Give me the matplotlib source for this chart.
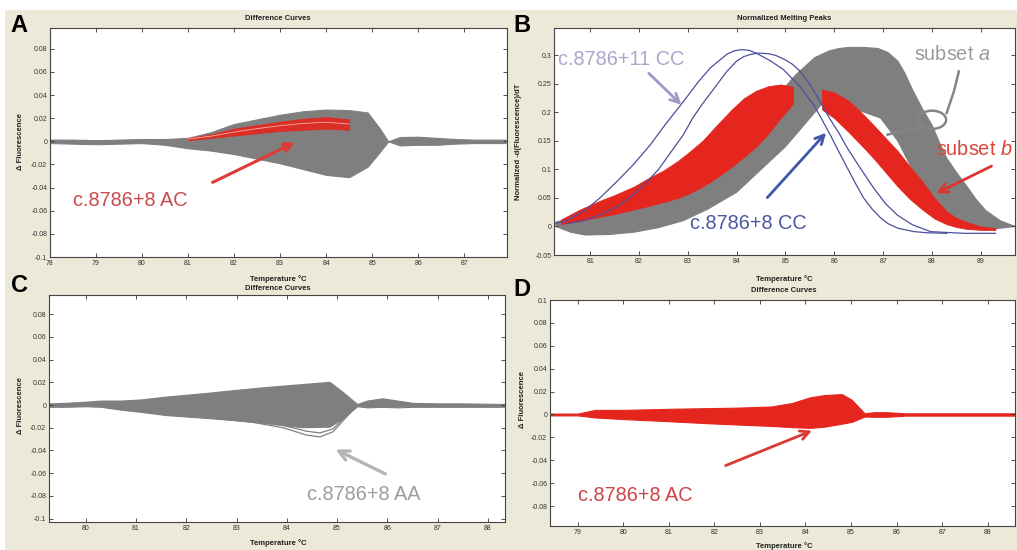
import matplotlib.pyplot as plt
from matplotlib.patches import Rectangle, Ellipse

plt.rcParams['font.family'] = ['Liberation Sans', 'DejaVu Sans']
plt.rcParams['mathtext.fontset'] = 'custom'
plt.rcParams['mathtext.rm'] = 'Liberation Sans'
plt.rcParams['mathtext.it'] = 'Liberation Sans:italic'

W, H = 1017, 550

# Panel A - difference curves, envelope of the gray bundle
a_temp = [78.0, 78.5, 79.0, 79.5, 80.0, 80.5, 81.0, 81.5, 82.0, 82.5, 83.0, 83.5, 84.0,
          84.5, 84.9, 85.15, 85.35, 85.6, 86.0, 86.4, 86.8, 87.2, 87.9]
a_upper = [0.0015, 0.0015, 0.001, 0.0015, 0.002, 0.002, 0.003, 0.008, 0.015, 0.019, 0.023,
           0.026, 0.0275, 0.027, 0.025, 0.012, 0.0, 0.0037, 0.004, 0.003, 0.002, 0.0015, 0.0015]
a_lower = [-0.0015, -0.002, -0.0025, -0.002, -0.0015, -0.003, -0.006, -0.008, -0.011, -0.015,
           -0.019, -0.024, -0.029, -0.031, -0.022, -0.010, 0.0, -0.0035, -0.003, -0.003,
           -0.002, -0.0015, -0.0015]
# red subset in A
a_red_temp = [81.0, 81.5, 82.0, 82.5, 83.0, 83.5, 84.0, 84.5]
a_red_top = [0.003, 0.006, 0.011, 0.014, 0.017, 0.0195, 0.021, 0.019]
a_red_mid = [0.002, 0.0045, 0.008, 0.011, 0.0135, 0.0155, 0.0165, 0.015]
a_red_bot = [0.001, 0.003, 0.005, 0.007, 0.009, 0.010, 0.011, 0.010]

# Panel B - normalized melting peaks
b_gray_top_t = [80.3, 81.0, 81.5, 82.0, 82.5, 83.0, 83.5, 84.0, 84.5, 84.9, 85.2, 85.6,
                85.9, 86.1, 86.3, 86.6, 86.9, 87.1, 87.3, 87.45, 87.6, 87.8, 88.0, 88.15,
                88.3, 88.5, 88.7, 88.9, 89.1, 89.4, 89.7]
b_gray_top_v = [0.008, 0.02, 0.031, 0.045, 0.065, 0.09, 0.122, 0.16, 0.2, 0.235, 0.265,
                0.296, 0.308, 0.312, 0.314, 0.314, 0.312, 0.305, 0.29, 0.268, 0.24, 0.207,
                0.178, 0.148, 0.12, 0.095, 0.072, 0.048, 0.028, 0.01, 0.0]
b_gray_bot_t = [80.3, 80.6, 80.9, 81.4, 81.9, 82.4, 82.9, 83.4, 84.0, 84.5, 85.0, 85.4,
                85.8, 86.3, 86.95, 87.3, 87.6, 88.0, 88.3, 88.7, 89.0, 89.4, 89.7]
b_gray_bot_v = [0.0, -0.01, -0.015, -0.014, -0.01, -0.002, 0.01, 0.03, 0.06, 0.1, 0.14,
                0.18, 0.22, 0.21, 0.19, 0.15, 0.1, 0.05, 0.02, 0.003, -0.005, -0.003, 0.0]
b_red_l_t = [80.4, 80.8, 81.2, 81.5, 81.9, 82.2, 82.5, 82.8, 83.05, 83.3, 83.6, 83.9,
             84.15, 84.4, 84.65, 84.9, 85.15]
b_red_l_top = [0.012, 0.03, 0.045, 0.055, 0.07, 0.085, 0.098, 0.115, 0.132, 0.15, 0.178,
               0.205, 0.225, 0.238, 0.246, 0.249, 0.245]
b_red_l_bot = [0.004, 0.01, 0.017, 0.022, 0.03, 0.036, 0.043, 0.05, 0.059, 0.07, 0.086,
               0.105, 0.122, 0.14, 0.163, 0.19, 0.215]
b_red_r_t = [85.75, 86.0, 86.3, 86.55, 86.8, 87.05, 87.3, 87.55, 87.8, 88.05, 88.3, 88.5,
             88.7, 89.0, 89.3]
b_red_r_top = [0.24, 0.235, 0.22, 0.2, 0.178, 0.155, 0.132, 0.105, 0.079, 0.05, 0.026,
               0.015, 0.008, 0.0, -0.003]
b_red_r_bot = [0.205, 0.19, 0.165, 0.143, 0.12, 0.095, 0.07, 0.048, 0.03, 0.014, 0.004,
               -0.001, -0.004, -0.006, -0.006]
b_blue1_t = [80.2, 80.5, 80.86, 81.2, 81.55, 81.9, 82.23, 82.55, 82.91, 83.2, 83.46, 83.8,
             83.95, 84.1, 84.25, 84.4, 84.7, 84.96, 85.3, 85.58, 85.75, 85.92, 86.1, 86.27,
             86.45, 86.6, 86.78, 86.95, 87.1, 87.3, 87.63, 87.9, 88.3]
b_blue1_v = [0.003, 0.01, 0.026, 0.05, 0.079, 0.11, 0.143, 0.18, 0.219, 0.252, 0.278,
             0.302, 0.308, 0.31, 0.309, 0.304, 0.29, 0.275, 0.245, 0.213, 0.187, 0.16, 0.13,
             0.102, 0.073, 0.05, 0.03, 0.015, 0.005, -0.003, -0.009, -0.011, -0.012]
b_blue2_t = [80.5, 80.85, 81.2, 81.55, 81.89, 82.15, 82.4, 82.65, 82.91, 83.1, 83.3, 83.6,
             83.8, 84.0, 84.15, 84.3, 84.45, 84.65, 84.8, 85.0, 85.15, 85.3, 85.45, 85.6,
             85.75, 85.9, 86.1, 86.27, 86.55, 86.81, 87.05, 87.29, 87.6, 87.97, 88.66, 89.3]
b_blue2_v = [0.005, 0.01, 0.02, 0.035, 0.056, 0.077, 0.1, 0.13, 0.161, 0.19, 0.215, 0.249,
             0.272, 0.29, 0.298, 0.302, 0.304, 0.303, 0.3, 0.292, 0.284, 0.272, 0.255, 0.235,
             0.213, 0.19, 0.163, 0.137, 0.1, 0.067, 0.04, 0.02, 0.003, -0.009, -0.012, -0.012]

# Panel C - difference curves, AA genotype
c_temp = [79.27, 79.6, 80.0, 80.3, 80.7, 81.1, 81.6, 82.3, 82.9, 83.6, 84.3, 84.85, 85.1,
          85.4, 85.6, 85.9, 86.2, 86.5, 87.0, 87.5, 88.34]
c_upper = [0.0015, 0.002, 0.003, 0.004, 0.004, 0.005, 0.0075, 0.0103, 0.013, 0.016, 0.0185,
           0.0205, 0.012, 0.001, 0.004, 0.006, 0.004, 0.002, 0.0015, 0.0015, 0.001]
c_lower = [-0.0015, -0.0015, -0.001, -0.0015, -0.004, -0.006, -0.0088, -0.011, -0.013,
           -0.016, -0.0195, -0.019, -0.012, -0.001, -0.002, -0.0015, -0.002, -0.0015,
           -0.0015, -0.0015, -0.0015]
c_out_t = [82.6, 83.3, 83.93, 84.39, 84.66, 84.92, 85.19, 85.39]
c_out1_v = [-0.012, -0.015, -0.02, -0.0264, -0.028, -0.0235, -0.0103, -0.001]
c_out2_v = [-0.0115, -0.014, -0.018, -0.023, -0.0245, -0.021, -0.009, -0.001]

# Panel D - difference curves, AC genotype only
d_temp = [78.39, 79.0, 79.38, 80.0, 81.06, 81.79, 82.52, 83.25, 83.7, 84.1, 84.42, 84.8,
          85.01, 85.3, 85.5, 85.8, 86.2, 87.0, 88.0, 88.6]
d_upper = [0.0008, 0.0008, 0.004, 0.004, 0.005, 0.0055, 0.006, 0.007, 0.010, 0.015, 0.017,
           0.0178, 0.013, 0.001, 0.002, 0.002, 0.001, 0.001, 0.001, 0.001]
d_lower = [-0.0008, -0.0008, -0.0026, -0.004, -0.006, -0.0075, -0.0088, -0.010, -0.011,
           -0.0117, -0.0106, -0.008, -0.0065, -0.0018, -0.002, -0.002, -0.001, -0.001,
           -0.001, -0.001]

diff_yticks = [-0.1, -0.08, -0.06, -0.04, -0.02, 0, 0.02, 0.04, 0.06, 0.08, 0.1]
diff_ylabels = ['-0.1', '-0.08', '-0.06', '-0.04', '-0.02', '0', '0.02', '0.04', '0.06',
                '0.08', '0.1']
peak_yticks = [-0.05, 0, 0.05, 0.1, 0.15, 0.2, 0.25, 0.3]
peak_ylabels = ['-0.05', '0', '0.05', '0.1', '0.15', '0.2', '0.25', '0.3']

GRAY = '#7f7f7f'
RED = '#e4261e'
BLUE = '#4c4f9c'


def px_axes(fig, x0, y0, x1, y1):
    return fig.add_axes([x0 / W, 1 - y1 / H, (x1 - x0) / W, (y1 - y0) / H])


def style(ax, xlim, ylim, xticks, yticks, ylabels):
    ax.set_xlim(*xlim)
    ax.set_ylim(*ylim)
    ax.set_xticks(xticks)
    ax.set_xticklabels([str(t) for t in xticks])
    ax.set_yticks(yticks)
    ax.set_yticklabels(ylabels)
    ax.tick_params(direction='in', length=3, width=0.6, labelsize=5, colors='#333333',
                   top=True, right=True, pad=2)
    for s in ax.spines.values():
        s.set_color('#444444')
        s.set_linewidth(0.8)


def ptext(fig, x, y, s, **kw):
    fig.text(x / W, 1 - y / H, s, ha='center', va='center', **kw)


fig = plt.figure(figsize=(W / 100, H / 100), dpi=100)
fig.patch.set_facecolor('white')
fig.patches.append(Rectangle((5 / W, 0), 1, 1 - 10 / H, transform=fig.transFigure,
                             facecolor='#ECE9D8', edgecolor='none', zorder=-10))

ann = dict(fontsize=14.3, ha='left', va='center')

# ---- A ----
ax = px_axes(fig, 50, 28, 507, 257)
ax.fill_between(a_temp, a_lower, a_upper, color=GRAY, lw=0.8)
ax.fill_between(a_red_temp, a_red_bot, a_red_top, color=RED, lw=0.6, alpha=0.9)
ax.plot(a_red_temp, a_red_mid, color='#f4b0a8', lw=0.6)
style(ax, (78, 87.93), (-0.1, 0.098), list(range(78, 88)), diff_yticks[:-1], diff_ylabels[:-1])
ax.annotate('', xy=(83.37, 0.0), xytext=(81.48, -0.0365),
            arrowprops=dict(arrowstyle='-|>', color='#dd3b35', lw=2.2, mutation_scale=14))
ax.text(78.5, -0.051, 'c.8786+8 AC', color='#cc4a4a', **ann)

# ---- B ----
ax = px_axes(fig, 554, 28, 1015, 255)
ax.fill(b_gray_top_t + b_gray_bot_t[::-1], b_gray_top_v + b_gray_bot_v[::-1],
        color=GRAY, lw=0.8, joinstyle='round')
ax.plot(b_blue1_t, b_blue1_v, color=BLUE, lw=0.9)
ax.plot(b_blue2_t, b_blue2_v, color=BLUE, lw=0.9)
ax.fill_between(b_red_l_t, b_red_l_bot, b_red_l_top, color=RED, lw=0.6)
ax.fill_between(b_red_r_t, b_red_r_bot, b_red_r_top, color=RED, lw=0.6)
style(ax, (80.26, 89.7), (-0.05, 0.348), list(range(81, 90)), peak_yticks, peak_ylabels)
ax.text(80.34, 0.292, 'c.8786+11 CC', color='#aaa5cc', **ann)
ax.annotate('', xy=(82.91, 0.21), xytext=(82.16, 0.272),
            arrowprops=dict(arrowstyle='->', color='#a197c9', lw=2.0, mutation_scale=16))
ax.text(83.05, 0.006, 'c.8786+8 CC', color='#4b56a3', **ann)
ax.annotate('', xy=(85.87, 0.168), xytext=(84.59, 0.047),
            arrowprops=dict(arrowstyle='->', color='#3f58aa', lw=2.0, mutation_scale=16))
ax.text(87.63, 0.301, 'subset $a$', color='#9b9b9b', **ann)
ax.plot([88.55, 88.45, 88.3], [0.272, 0.237, 0.199], color='#858585', lw=1.8)
ax.add_patch(Ellipse((88.0, 0.187), 0.58, 0.032, fill=False, edgecolor='#858585', lw=1.8))
ax.plot([87.77, 87.09], [0.175, 0.161], color='#858585', lw=1.8)
ax.text(88.08, 0.135, 'subset $b$', color='#d8453d', **ann)
ax.annotate('', xy=(88.04, 0.056), xytext=(89.27, 0.108),
            arrowprops=dict(arrowstyle='->', color='#d9372f', lw=2.0, mutation_scale=16))

# ---- C ----
ax = px_axes(fig, 49, 295, 505, 522)
ax.fill_between(c_temp, c_lower, c_upper, color=GRAY, lw=0.8)
ax.plot(c_out_t, c_out1_v, color=GRAY, lw=0.9)
ax.plot(c_out_t, c_out2_v, color=GRAY, lw=0.9)
style(ax, (79.27, 88.34), (-0.103, 0.097), list(range(80, 89)), diff_yticks[:-1],
      diff_ylabels[:-1])
ax.annotate('', xy=(84.92, -0.038), xytext=(86.01, -0.0617),
            arrowprops=dict(arrowstyle='->', color='#b5b5b5', lw=2.4, mutation_scale=18))
ax.text(84.4, -0.079, 'c.8786+8 AA', color='#9c9c9c', **ann)

# ---- D ----
ax = px_axes(fig, 550, 300, 1015, 526)
ax.fill_between(d_temp, d_lower, d_upper, color=RED, lw=0.8)
style(ax, (78.39, 88.6), (-0.0974, 0.1), list(range(79, 89)), diff_yticks[1:], diff_ylabels[1:])
ax.annotate('', xy=(84.2, -0.0132), xytext=(82.19, -0.0455),
            arrowprops=dict(arrowstyle='->', color='#d93a35', lw=2.0, mutation_scale=16))
ax.text(79.0, -0.0704, 'c.8786+8 AC', color='#cc4545', **ann)

# titles, axis labels, panel letters
small = dict(fontsize=5.5, color='#222222')
ptext(fig, 278, 18, 'Difference Curves', fontweight='bold', **small)
ptext(fig, 784, 18, 'Normalized Melting Peaks', fontweight='bold', **small)
ptext(fig, 278, 288, 'Difference Curves', fontweight='bold', **small)
ptext(fig, 784, 290, 'Difference Curves', fontweight='bold', **small)
ptext(fig, 278, 279, 'Temperature °C', fontweight='bold', **small)
ptext(fig, 784, 279, 'Temperature °C', fontweight='bold', **small)
ptext(fig, 278, 543, 'Temperature °C', fontweight='bold', **small)
ptext(fig, 784, 546, 'Temperature °C', fontweight='bold', **small)
ptext(fig, 20, 141, 'Δ Fluorescence', rotation=90, fontweight='bold', **small)
ptext(fig, 20, 405, 'Δ Fluorescence', rotation=90, fontweight='bold', **small)
ptext(fig, 518, 142, 'Normalized -d(Fluorescence)/dT', rotation=90, fontweight='bold', **small)
ptext(fig, 523, 400, 'Δ Fluorescence', rotation=90, fontweight='bold', **small)

letters = dict(fontsize=17, fontweight='bold', color='black')
ptext(fig, 19, 25, 'A', **letters)
ptext(fig, 522, 25, 'B', **letters)
ptext(fig, 19, 286, 'C', **letters)
ptext(fig, 522, 290, 'D', **letters)

fig.savefig('out.png', dpi=100, facecolor=fig.get_facecolor())
